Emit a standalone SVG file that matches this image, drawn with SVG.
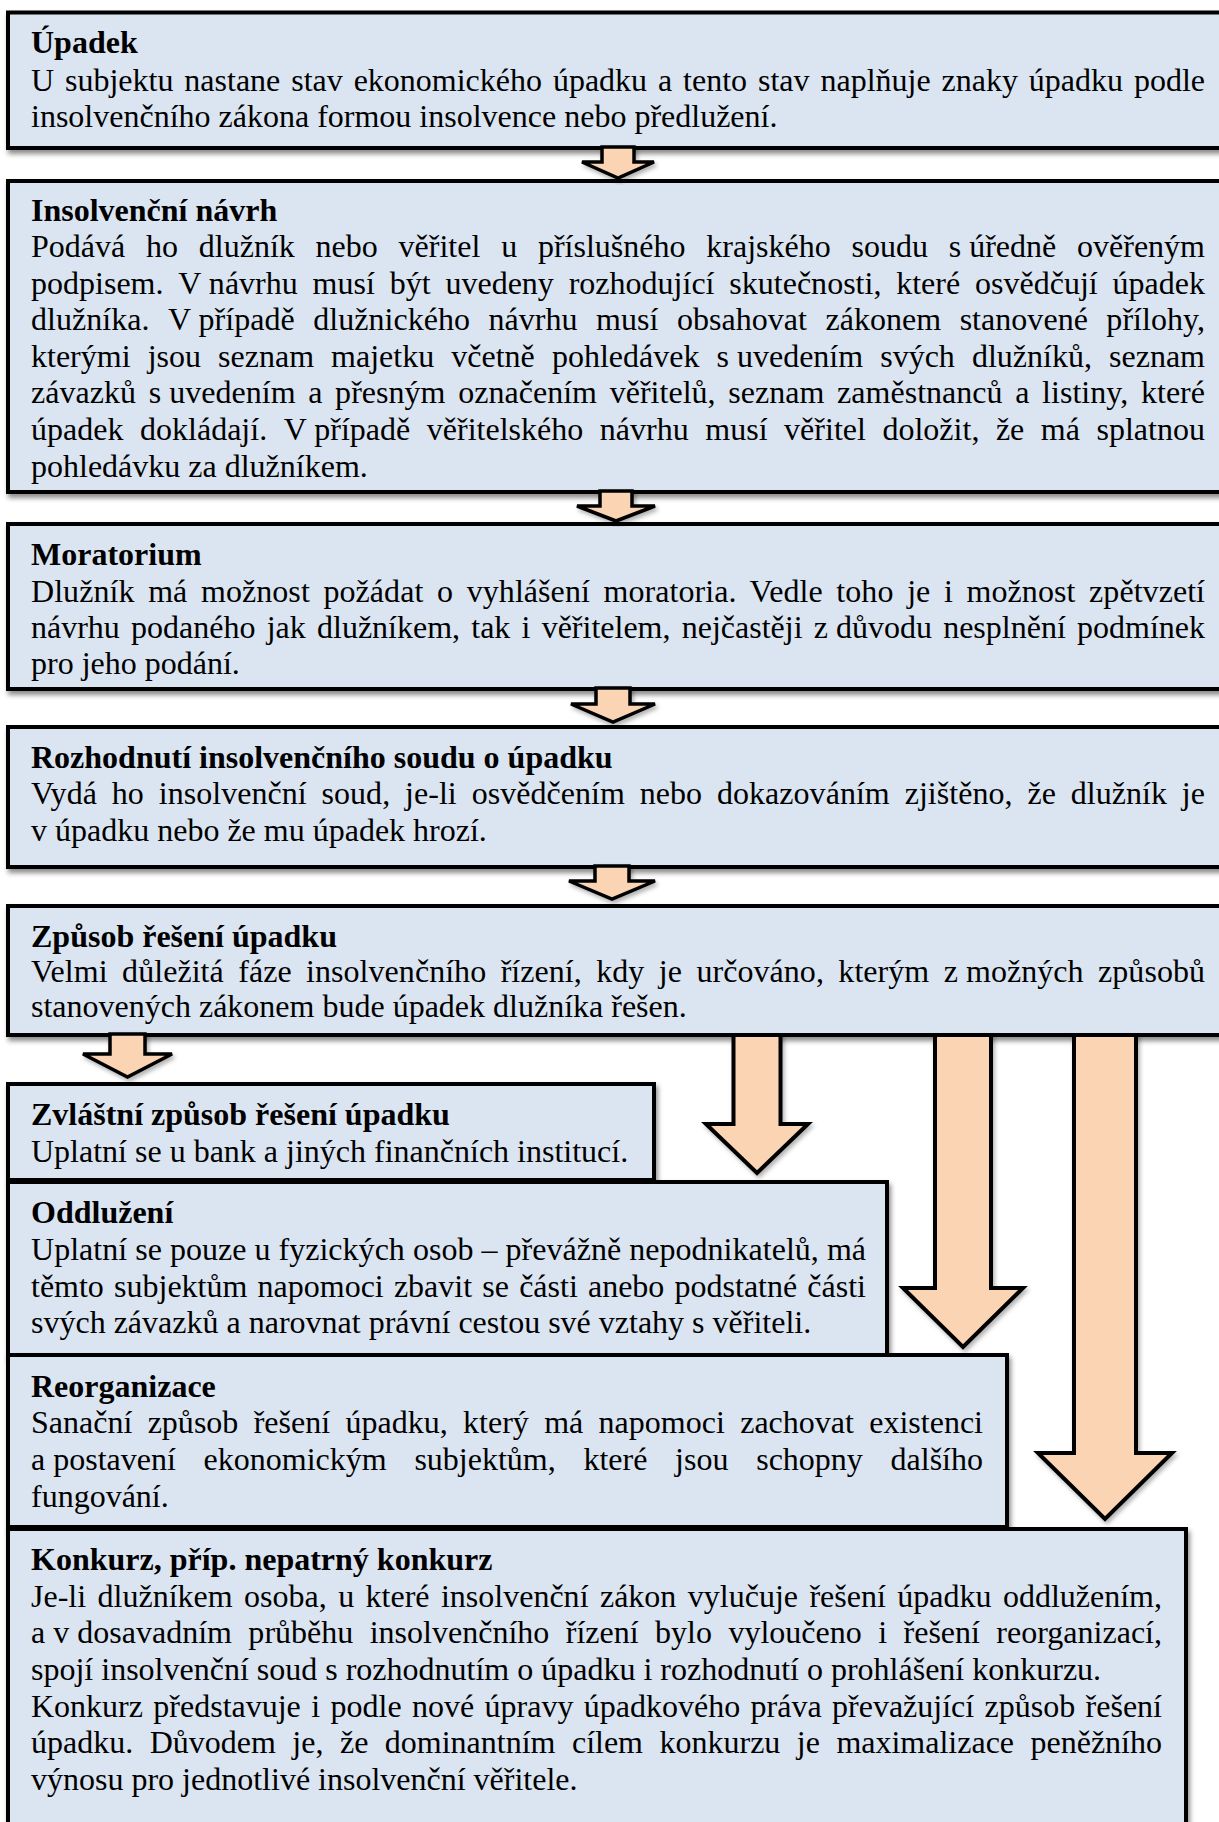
<svg xmlns="http://www.w3.org/2000/svg" width="1219" height="1822" viewBox="0 0 1219 1822">
<defs>
<filter id="sh" x="-5%" y="-10%" width="115%" height="140%">
<feDropShadow dx="2" dy="4" stdDeviation="2.5" flood-color="#000" flood-opacity="0.45"/>
</filter>
<filter id="sha" x="-20%" y="-10%" width="150%" height="130%">
<feDropShadow dx="2" dy="3" stdDeviation="2" flood-color="#000" flood-opacity="0.3"/>
</filter>
<style>
.box{fill:#DBE5F1;stroke:#000;stroke-width:4;filter:url(#sh)}
.arr{fill:#FBD4B4;stroke:#000;stroke-width:3.5;stroke-linejoin:miter;filter:url(#sha)}
.arrb{fill:#FBD4B4;stroke:#000;stroke-width:4;stroke-linejoin:miter;filter:url(#sha)}
text{font-family:"Liberation Serif","Times New Roman",serif;font-size:32px;fill:#000}
.t{font-weight:bold}
.nb{word-spacing:0}
</style>
</defs>
<rect width="1219" height="1822" fill="#fff"/>

<g id="n-upadek">
<rect class="box" x="8" y="12.5" width="1240" height="135.5"/>
<text class="t" x="31" y="53">Úpadek</text>
<text x="31" y="90.5" word-spacing="2.9" textLength="1174" lengthAdjust="spacing">U subjektu nastane stav ekonomického úpadku a tento stav naplňuje znaky úpadku podle</text>
<text x="31" y="127">insolvenčního zákona formou insolvence nebo předlužení.</text>
</g>

<g id="n-navrh">
<rect class="box" x="8" y="181" width="1240" height="311"/>
<text class="t" x="31" y="221">Insolvenční návrh</text>
<text x="31" y="257" word-spacing="12.8" textLength="1174" lengthAdjust="spacing">Podává ho dlužník nebo věřitel u příslušného krajského soudu <tspan class="nb">s úředně</tspan> ověřeným</text>
<text x="31" y="293.5" word-spacing="6.8" textLength="1174" lengthAdjust="spacing">podpisem. <tspan class="nb">V návrhu</tspan> musí být uvedeny rozhodující skutečnosti, které osvědčují úpadek</text>
<text x="31" y="330" word-spacing="10.4" textLength="1174" lengthAdjust="spacing">dlužníka. <tspan class="nb">V případě</tspan> dlužnického návrhu musí obsahovat zákonem stanovené přílohy,</text>
<text x="31" y="366.7" word-spacing="9.1" textLength="1174" lengthAdjust="spacing">kterými jsou seznam majetku včetně pohledávek <tspan class="nb">s uvedením</tspan> svých dlužníků, seznam</text>
<text x="31" y="403.4" word-spacing="4.6" textLength="1174" lengthAdjust="spacing">závazků <tspan class="nb">s uvedením</tspan> a přesným označením věřitelů, seznam zaměstnanců a listiny, které</text>
<text x="31" y="440" word-spacing="8.5" textLength="1174" lengthAdjust="spacing">úpadek dokládají. <tspan class="nb">V případě</tspan> věřitelského návrhu musí věřitel doložit, že má splatnou</text>
<text x="31" y="476.7">pohledávku za dlužníkem.</text>
</g>

<g id="n-moratorium">
<rect class="box" x="8" y="524" width="1240" height="165"/>
<text class="t" x="31" y="565">Moratorium</text>
<text x="31" y="601.7" word-spacing="5.6" textLength="1174" lengthAdjust="spacing">Dlužník má možnost požádat o vyhlášení moratoria. Vedle toho je i možnost zpětvzetí</text>
<text x="31" y="637.5" word-spacing="3.2" textLength="1174" lengthAdjust="spacing">návrhu podaného jak dlužníkem, tak i věřitelem, nejčastěji <tspan class="nb">z důvodu</tspan> nesplnění podmínek</text>
<text x="31" y="673.5">pro jeho podání.</text>
</g>

<g id="n-rozhodnuti">
<rect class="box" x="8" y="727" width="1240" height="140"/>
<text class="t" x="31" y="767.5">Rozhodnutí insolvenčního soudu o úpadku</text>
<text x="31" y="804" word-spacing="6.8" textLength="1174" lengthAdjust="spacing">Vydá ho insolvenční soud, je-li osvědčením nebo dokazováním zjištěno, že dlužník je</text>
<text x="31" y="840.5">v úpadku nebo že mu úpadek hrozí.</text>
</g>

<g id="n-zpusob">
<rect class="box" x="8" y="906" width="1240" height="129"/>
<text class="t" x="31" y="946.7">Způsob řešení úpadku</text>
<text x="31" y="982" word-spacing="6.4" textLength="1174" lengthAdjust="spacing">Velmi důležitá fáze insolvenčního řízení, kdy je určováno, kterým <tspan class="nb">z možných</tspan> způsobů</text>
<text x="31" y="1017">stanovených zákonem bude úpadek dlužníka řešen.</text>
</g>

<g id="n-zvlastni">
<rect class="box" x="8" y="1084" width="646" height="96"/>
<text class="t" x="31" y="1125">Zvláštní způsob řešení úpadku</text>
<text x="31" y="1161.7">Uplatní se u bank a jiných finančních institucí.</text>
</g>

<g id="n-oddluzeni">
<rect class="box" x="8" y="1182" width="879" height="173"/>
<text class="t" x="31" y="1223">Oddlužení</text>
<text x="31" y="1260" textLength="835" lengthAdjust="spacing">Uplatní se pouze u fyzických osob – převážně nepodnikatelů, má</text>
<text x="31" y="1296.7" word-spacing="2.2" textLength="835" lengthAdjust="spacing">těmto subjektům napomoci zbavit se části anebo podstatné části</text>
<text x="31" y="1333">svých závazků a narovnat právní cestou své vztahy s věřiteli.</text>
</g>

<g id="n-reorganizace">
<rect class="box" x="8" y="1355" width="999" height="172"/>
<text class="t" x="31" y="1396.7">Reorganizace</text>
<text x="31" y="1433" word-spacing="7.35" textLength="952" lengthAdjust="spacing">Sanační způsob řešení úpadku, který má napomoci zachovat existenci</text>
<text x="31" y="1470" word-spacing="19.7" textLength="952" lengthAdjust="spacing"><tspan class="nb">a postavení</tspan> ekonomickým subjektům, které jsou schopny dalšího</text>
<text x="31" y="1506.7">fungování.</text>
</g>

<g id="n-konkurz">
<rect class="box" x="8" y="1529" width="1178" height="320"/>
<text class="t" x="31" y="1570">Konkurz, příp. nepatrný konkurz</text>
<text x="31" y="1606.7" word-spacing="3.4" textLength="1131" lengthAdjust="spacing">Je-li dlužníkem osoba, u které insolvenční zákon vylučuje řešení úpadku oddlužením,</text>
<text x="31" y="1643.3" word-spacing="8.4" textLength="1131" lengthAdjust="spacing"><tspan class="nb">a v dosavadním</tspan> průběhu insolvenčního řízení bylo vyloučeno i řešení reorganizací,</text>
<text x="31" y="1680">spojí insolvenční soud s rozhodnutím o úpadku i rozhodnutí o prohlášení konkurzu.</text>
<text x="31" y="1716.7" word-spacing="2.4" textLength="1131" lengthAdjust="spacing">Konkurz představuje i podle nové úpravy úpadkového práva převažující způsob řešení</text>
<text x="31" y="1753.3" word-spacing="8.5" textLength="1131" lengthAdjust="spacing">úpadku. Důvodem je, že dominantním cílem konkurzu je maximalizace peněžního</text>
<text x="31" y="1790">výnosu pro jednotlivé insolvenční věřitele.</text>
</g>

<g id="connectors">
<path class="arr" d="M602,147 H634 V162 H654 L618,178 L582,162 H602 Z"/>
<path class="arr" d="M600,491 H632 V506 H655 L616,521 L577,506 H600 Z"/>
<path class="arr" d="M596,688 H630 V704 H655 L613,722 L571,704 H596 Z"/>
<path class="arr" d="M595,866 H629 V881 H655 L612,899 L569,881 H595 Z"/>
<path class="arr" d="M110,1034 H145 V1054 H172 L127.5,1077 L83,1054 H110 Z"/>
<path class="arrb" d="M733.5,1035 H780.5 V1124 H808 L757,1173 L706,1124 H733.5 Z"/>
<path class="arrb" d="M935,1035 H991 V1288 H1023 L963,1347 L903,1288 H935 Z"/>
<path class="arrb" d="M1074,1035 H1136 V1453 H1172 L1105,1519 L1038,1453 H1074 Z"/>
</g>
</svg>
